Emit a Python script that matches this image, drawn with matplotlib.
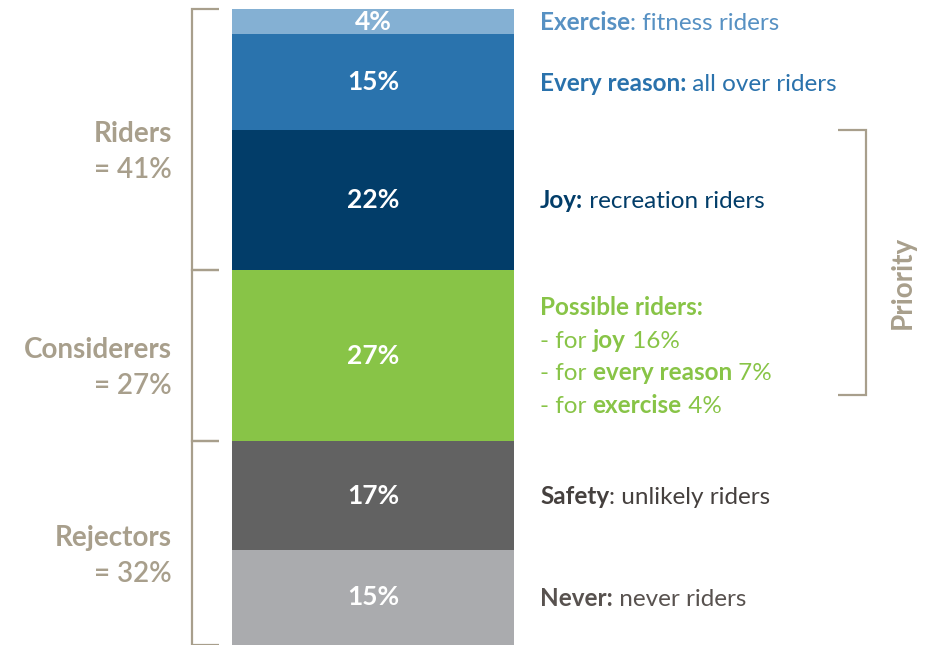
import matplotlib
matplotlib.use('Agg')
import matplotlib.pyplot as plt
import numpy as np

# ---- data ----
shares = [4, 15, 22, 27, 17, 15]
share_labels = ['4%', '15%', '22%', '27%', '17%', '15%']
seg_colors = ['#84B0D3', '#2A73AD', '#023D69', '#88C447', '#626262', '#AAABAE']

group_names = ['Riders', 'Considerers', 'Rejectors']
group_totals = ['= 41%', '= 27%', '= 32%']
group_sizes = [3, 1, 2]   # number of segments in each group

descriptions = [
    [[('Exercise', 'bold'), (': fitness riders', 'normal')]],
    [[('Every reason:', 'bold'), (' all over riders', 'normal')]],
    [[('Joy:', 'bold'), (' recreation riders', 'normal')]],
    [[('Possible riders:', 'bold')],
     [('- for ', 'normal'), ('joy', 'bold'), (' 16%', 'normal')],
     [('- for ', 'normal'), ('every reason', 'bold'), (' 7%', 'normal')],
     [('- for ', 'normal'), ('exercise', 'bold'), (' 4%', 'normal')]],
    [[('Safety', 'bold'), (': unlikely riders', 'normal')]],
    [[('Never:', 'bold'), (' never riders', 'normal')]],
]
desc_colors = ['#5791C3', '#2A72AC', '#023D69', '#88C447', '#45403E', '#58524F']
priority_label = 'Priority'

TAN = '#A89F8C'
plt.rcParams['font.family'] = ['Lato', 'DejaVu Sans']

W, H = 933, 645
PX = 6.36          # pixels per percentage point
TOP = 9            # pixel offset of the bar top

fig = plt.figure(figsize=(W / 100, H / 100), dpi=100)
ax = fig.add_axes([0, 0, 1, 1])
ax.set_xlim(0, W)
ax.set_ylim((H - TOP) / PX, -TOP / PX)
ax.axis('off')

bottoms = np.concatenate([[0], np.cumsum(shares)[:-1]])
centers = bottoms + np.array(shares) / 2

ax.bar(373, shares, width=282, bottom=bottoms, color=seg_colors, align='center',
       linewidth=0)

for c, lab in zip(centers, share_labels):
    ax.text(373, c, lab, ha='center', va='center', color='white',
            fontsize=19, fontweight='bold')

renderer = fig.canvas.get_renderer()


def rich_line(x, y, pieces, color, size):
    for s, w in pieces:
        t = ax.text(x, y, s, fontsize=size, fontweight=w, color=color,
                    ha='left', va='baseline')
        x += t.get_window_extent(renderer).width


# right-hand descriptions
DESC_SIZE = 17.5
cap_off = 8.5 / PX
line_gap = 32.5 / PX
for c, lines, col in zip(centers, descriptions, desc_colors):
    n = len(lines)
    for i, pieces in enumerate(lines):
        y = c + (i - (n - 1) / 2) * line_gap + cap_off
        rich_line(540, y, pieces, col, DESC_SIZE)

# left brackets & group labels
ends = np.cumsum(shares)
idx = np.cumsum(group_sizes)
g_bounds = np.concatenate([[0], ends[idx - 1]])
for i, (name, tot) in enumerate(zip(group_names, group_totals)):
    top, bot = g_bounds[i], g_bounds[i + 1]
    ax.plot([219, 192, 192, 219], [top, top, bot, bot], color=TAN, lw=1.6,
            solid_joinstyle='miter', solid_capstyle='butt')
    mid = (top + bot) / 2 + 10 / PX
    ax.text(172, mid - 18 / PX + 10.5 / PX, name, ha='right', va='baseline',
            fontsize=20, fontweight='bold', color=TAN)
    ax.text(172, mid + 18 / PX + 10.5 / PX, tot, ha='right', va='baseline',
            fontsize=20, fontweight='semibold', color=TAN)

# priority bracket (joy segment through the possible-riders block)
p_top = bottoms[2]
p_bot = centers[3] + 1.2 * line_gap
ax.plot([838, 866, 866, 838], [p_top, p_top, p_bot, p_bot], color=TAN, lw=1.6,
        solid_joinstyle='miter', solid_capstyle='butt')
ax.text(903, (p_top + p_bot) / 2 + 20 / PX, priority_label, rotation=90,
        ha='center', va='center', fontsize=20, fontweight='bold', color=TAN)

fig.savefig('out.png', dpi=100)
